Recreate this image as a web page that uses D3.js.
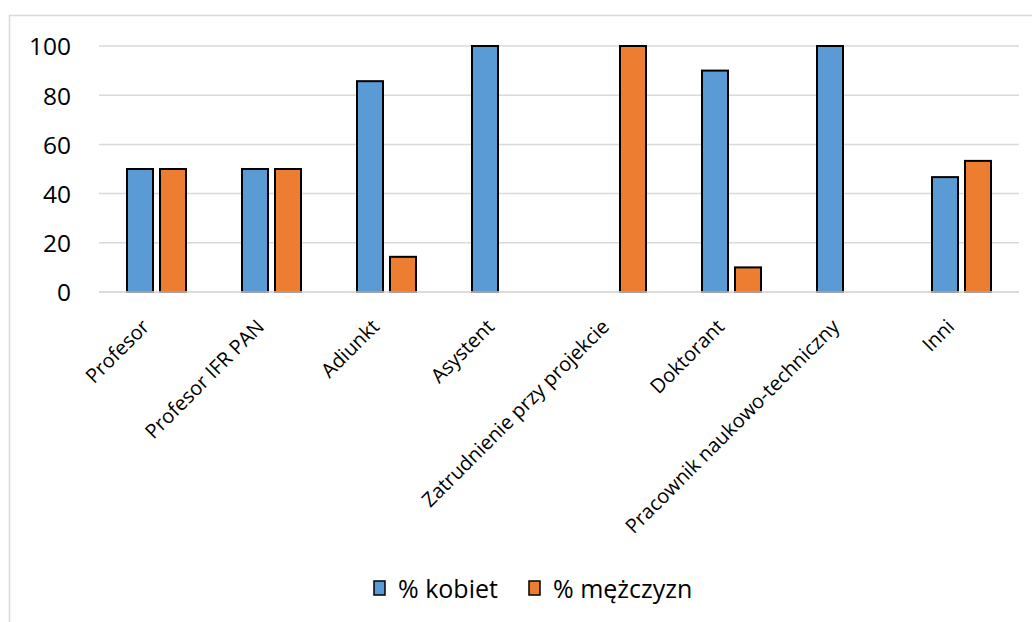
<!DOCTYPE html>
<html>
<head>
<meta charset="utf-8">
<script src="https://cdn.jsdelivr.net/npm/d3@7"></script>
<style>
  html, body { margin: 0; padding: 0; background: #fff; }
  svg { display: block; }
  text { font-family: "Open Sans", "Noto Sans", sans-serif; fill: #000; }
</style>
</head>
<body>
<svg id="chart" width="1032" height="622"></svg>
<script>
// Udział kobiet i mężczyzn w grupach stanowisk (%)
const categories = ["Profesor", "Profesor IFR PAN", "Adiunkt", "Asystent",
  "Zatrudnienie przy projekcie", "Doktorant", "Pracownik naukowo-techniczny", "Inni"];
const kobiety = [50, 50, 85.7, 100, 0, 90, 100, 46.7];
const mezczyzni = [50, 50, 14.3, 0, 100, 10, 0, 53.3];
const seriesNames = ["% kobiet", "% mężczyzn"];
const seriesColors = ["#5B9BD5", "#ED7D31"];
const yTicks = [0, 20, 40, 60, 80, 100];

const svg = d3.select("#chart");

// chart frame (left and top edges visible)
svg.append("path")
  .attr("d", "M9.5,622 L9.5,15.5 L1032,15.5")
  .attr("fill", "none").attr("stroke", "#d9d9d9").attr("stroke-width", 1.5);

const plot = { left: 99, right: 1019, top: 46, bottom: 292 };

const x = d3.scaleBand().domain(categories).range([plot.left, plot.right]).paddingInner(0).paddingOuter(0);
const y = d3.scaleLinear().domain([0, 100]).range([plot.bottom, plot.top]);

// gridlines
svg.append("g")
  .selectAll("line").data(yTicks).join("line")
  .attr("x1", plot.left).attr("x2", plot.right)
  .attr("y1", d => y(d)).attr("y2", d => y(d))
  .attr("stroke", "#d9d9d9").attr("stroke-width", 1.5);

// y axis labels
const yAxis = d3.axisLeft(y).tickValues(yTicks).tickSize(0).tickPadding(28);
const gy = svg.append("g").attr("transform", `translate(${plot.left},0)`).call(yAxis);
gy.select(".domain").remove();
gy.selectAll("text").style("font-size", "24.5px").attr("font-family", null).attr("dy", "0.36em");

// grouped bars
const barW = 26, gap = 7;
const series = [kobiety, mezczyzni];
series.forEach((vals, si) => {
  svg.append("g").selectAll("rect").data(categories).join("rect")
    .filter((d, i) => vals[i] > 0)
    .attr("x", d => x(d) + x.bandwidth() / 2 + (si === 0 ? -gap / 2 - barW : gap / 2))
    .attr("y", (d) => y(vals[categories.indexOf(d)]))
    .attr("width", barW)
    .attr("height", d => y(0) - y(vals[categories.indexOf(d)]))
    .attr("fill", seriesColors[si])
    .attr("stroke", "#000").attr("stroke-width", 2);
});

// baseline
svg.append("line")
  .attr("x1", plot.left).attr("x2", plot.right)
  .attr("y1", y(0)).attr("y2", y(0))
  .attr("stroke", "#d9d9d9").attr("stroke-width", 1.5);

// category labels, rotated
const xAxis = d3.axisBottom(x).tickSize(0).tickPadding(0);
const gx = svg.append("g").attr("transform", `translate(0,${plot.bottom})`).call(xAxis);
gx.select(".domain").remove();
gx.selectAll("text")
  .attr("font-family", null)
  .style("font-size", "20px")
  .attr("text-anchor", "end")
  .attr("dy", null).attr("y", 0)
  .attr("transform", "translate(-6,36) rotate(-45)");

// legend
const legend = svg.append("g");
const legendItems = [{ x: 374, tx: 398 }, { x: 529, tx: 553 }];
seriesNames.forEach((name, i) => {
  legend.append("rect")
    .attr("x", legendItems[i].x).attr("y", 581)
    .attr("width", 11).attr("height", 14)
    .attr("fill", seriesColors[i]).attr("stroke", "#000").attr("stroke-width", 1.5);
  legend.append("text")
    .attr("x", legendItems[i].tx).attr("y", 598)
    .style("font-size", "25px")
    .text(name);
});
</script>
</body>
</html>
